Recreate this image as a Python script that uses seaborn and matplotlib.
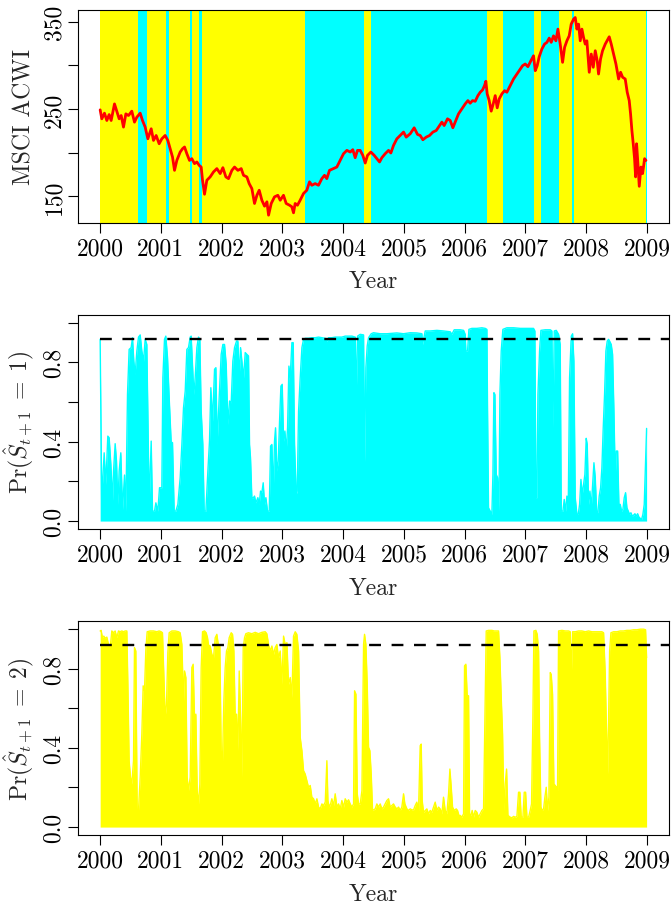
import matplotlib
matplotlib.use("Agg")
import matplotlib.pyplot as plt
import seaborn as sns

# ---------------- data ----------------
years = list(range(2000, 2010))

# regime boundaries (decimal year) and regime state for each interval (1 = cyan, 2 = yellow)
regime_breaks = [2000.0, 2000.631, 2000.768, 2001.087, 2001.131, 2001.482, 2001.515,
                 2001.619, 2001.679, 2003.375, 2004.341, 2004.461, 2006.371, 2006.635,
                 2007.145, 2007.260, 2007.557, 2007.771, 2007.804, 2008.99, 2009.004]
regime_states = [2, 1, 2, 1, 2, 1, 2, 1, 2, 1, 2, 1, 2, 1, 2, 1, 2, 1, 2, 1]

price_t = [2000.000, 2000.027, 2000.071, 2000.110, 2000.148, 2000.181, 2000.236, 2000.274,
           2000.313, 2000.346, 2000.384, 2000.423, 2000.467, 2000.521, 2000.565, 2000.604,
           2000.659, 2000.697, 2000.741, 2000.785, 2000.840, 2000.878, 2000.922, 2000.971,
           2001.015, 2001.070, 2001.114, 2001.153, 2001.191, 2001.224, 2001.262, 2001.317,
           2001.356, 2001.389, 2001.427, 2001.471, 2001.509, 2001.553, 2001.592, 2001.630,
           2001.663, 2001.685, 2001.718, 2001.756, 2001.811, 2001.866, 2001.921, 2001.976,
           2002.020, 2002.069, 2002.113, 2002.168, 2002.212, 2002.267, 2002.322, 2002.360,
           2002.415, 2002.453, 2002.497, 2002.541, 2002.580, 2002.618, 2002.662, 2002.706,
           2002.745, 2002.772, 2002.816, 2002.870, 2002.925, 2002.964,
           2003.018, 2003.062, 2003.117, 2003.155, 2003.183, 2003.210, 2003.248, 2003.292,
           2003.347, 2003.402, 2003.446, 2003.484, 2003.539, 2003.594, 2003.649, 2003.693,
           2003.731, 2003.775, 2003.841, 2003.896, 2003.951, 2004.006, 2004.061, 2004.116,
           2004.159, 2004.198, 2004.236, 2004.280, 2004.324, 2004.363, 2004.401, 2004.456,
           2004.511, 2004.555, 2004.599, 2004.637, 2004.692, 2004.747, 2004.785, 2004.829,
           2004.884, 2004.939, 2004.994, 2005.038, 2005.104, 2005.169, 2005.224, 2005.268,
           2005.312, 2005.367, 2005.422, 2005.477, 2005.532, 2005.586, 2005.625, 2005.663,
           2005.718, 2005.762, 2005.806, 2005.844, 2005.899, 2005.954, 2006.009,
           2006.053, 2006.091, 2006.130, 2006.174, 2006.218, 2006.256, 2006.294, 2006.327,
           2006.349, 2006.371, 2006.404, 2006.437, 2006.470, 2006.503, 2006.536, 2006.569,
           2006.613, 2006.657, 2006.695, 2006.750, 2006.805, 2006.860, 2006.915, 2006.953,
           2006.997, 2007.041, 2007.096, 2007.134, 2007.162, 2007.194, 2007.227, 2007.271,
           2007.315, 2007.354, 2007.392, 2007.425, 2007.463, 2007.502, 2007.535, 2007.573,
           2007.612, 2007.645, 2007.683, 2007.721, 2007.754, 2007.793, 2007.820, 2007.848,
           2007.875, 2007.903, 2007.930, 2007.957, 2007.985, 2008.012, 2008.051, 2008.084,
           2008.117, 2008.150, 2008.182, 2008.204, 2008.237, 2008.270, 2008.314, 2008.358,
           2008.380, 2008.413, 2008.451, 2008.490, 2008.534, 2008.567, 2008.600, 2008.643,
           2008.676, 2008.709, 2008.731, 2008.753, 2008.775, 2008.797, 2008.814, 2008.830,
           2008.852, 2008.874, 2008.902, 2008.929, 2008.962, 2008.984]
price_v = [249.1, 238.8, 245.3, 236.9, 243.7, 236.9, 255.9, 247.6,
           238.8, 242.6, 229.3, 244.5, 242.6, 247.6, 235.0, 240.7,
           245.3, 236.9, 229.3, 215.9, 227.4, 214.0, 219.7, 210.2,
           215.9, 219.7, 214.0, 204.5, 195.0, 179.7, 191.1, 200.7,
           204.5, 206.5, 198.8, 191.1, 193.1, 187.4, 189.3, 185.4,
           183.5, 168.3, 152.3, 168.3, 172.2, 177.9, 181.7, 176.0,
           182.8, 172.2, 170.2, 179.7, 183.5, 179.7, 181.7, 174.0,
           172.2, 164.5, 158.8, 141.7, 151.1, 156.9, 145.4, 138.6,
           143.6, 128.3, 141.7, 149.3, 151.1, 145.4,
           151.1, 141.7, 139.7, 137.9, 131.0, 141.7, 139.7, 145.4,
           153.1, 156.9, 166.5, 162.6, 164.5, 162.6, 170.2, 174.0,
           170.2, 179.7, 181.7, 183.5, 191.1, 198.8, 202.6, 200.7,
           203.4, 194.2, 202.6, 202.6, 196.9, 188.1, 196.9, 200.7,
           196.9, 193.1, 189.3, 194.2, 198.8, 202.6, 199.6, 208.3,
           215.9, 219.7, 223.6, 217.8, 221.7, 228.5, 220.9, 219.7,
           214.8, 217.8, 219.7, 223.6, 225.4, 231.1, 235.0, 231.1,
           238.8, 236.9, 228.5, 235.0, 244.5, 250.2, 255.9,
           259.7, 256.7, 259.7, 258.9, 265.4, 269.3, 271.9, 276.9,
           281.9, 267.4, 259.7, 247.6, 255.9, 265.4, 251.4, 261.7,
           267.4, 271.1, 269.3, 276.9, 284.5, 290.2, 295.9, 299.7,
           301.7, 298.6, 306.2, 311.1, 294.0, 299.7, 310.0, 318.8,
           324.5, 326.5, 331.4, 326.5, 334.0, 328.3, 341.7, 324.5,
           303.6, 320.7, 328.3, 334.0, 347.4, 353.1, 355.0, 341.7,
           347.4, 328.3, 341.7, 332.2, 324.5, 328.3, 292.2, 313.1,
           297.9, 316.9, 305.4, 290.2, 307.4, 316.9, 324.5, 330.2,
           332.9, 324.5, 313.1, 301.7, 284.5, 292.2, 286.5, 284.5,
           269.3, 259.7, 244.5, 225.4, 210.2, 193.1, 172.2, 210.2,
           187.4, 161.4, 183.5, 176.0, 193.1, 191.1]

# predicted probability of regime 1 (upper envelope)
p1_t = [2000.000, 2000.027, 2000.038, 2000.066, 2000.093, 2000.126, 2000.148, 2000.176,
        2000.203, 2000.220, 2000.247, 2000.269, 2000.291, 2000.313, 2000.340, 2000.368,
        2000.401, 2000.423, 2000.450, 2000.477, 2000.510, 2000.532, 2000.554, 2000.576,
        2000.604, 2000.631, 2000.659, 2000.686, 2000.714, 2000.741, 2000.768, 2000.785,
        2000.807, 2000.840, 2000.862, 2000.895, 2000.917, 2000.950, 2000.977, 2001.015,
        2001.032, 2001.059, 2001.081, 2001.109, 2001.136, 2001.169, 2001.191, 2001.218,
        2001.246, 2001.279, 2001.317, 2001.345, 2001.372, 2001.400, 2001.427, 2001.454,
        2001.482, 2001.498, 2001.520, 2001.542, 2001.564, 2001.592, 2001.619, 2001.641,
        2001.663, 2001.690, 2001.712, 2001.740, 2001.773, 2001.800, 2001.822, 2001.850,
        2001.883, 2001.905, 2001.926, 2001.959, 2001.992, 2002.020, 2002.047, 2002.075,
        2002.102, 2002.130, 2002.157, 2002.184, 2002.212, 2002.245, 2002.267, 2002.289,
        2002.311, 2002.333, 2002.360, 2002.388, 2002.415, 2002.442, 2002.459, 2002.475,
        2002.497, 2002.525, 2002.541, 2002.563, 2002.596, 2002.618, 2002.640, 2002.662,
        2002.684, 2002.706, 2002.728, 2002.755, 2002.783, 2002.805, 2002.827, 2002.849,
        2002.870, 2002.887, 2002.909, 2002.931, 2002.953, 2002.975, 2002.997, 2003.019,
        2003.041, 2003.063, 2003.085, 2003.107, 2003.128, 2003.156, 2003.178, 2003.200,
        2003.227, 2003.244, 2003.266, 2003.293, 2003.321, 2003.348, 2003.375, 2003.430,
        2003.485, 2003.540, 2003.595, 2003.650, 2003.705, 2003.732, 2003.760, 2003.814,
        2003.869, 2003.924, 2003.979, 2004.034, 2004.089, 2004.144, 2004.199, 2004.215,
        2004.237, 2004.281, 2004.336, 2004.352, 2004.374, 2004.396, 2004.418, 2004.462,
        2004.500, 2004.610, 2004.719, 2004.884, 2004.994, 2005.104, 2005.213, 2005.296,
        2005.307, 2005.351, 2005.433, 2005.543, 2005.652, 2005.762, 2005.790, 2005.828,
        2005.927, 2005.982, 2006.009, 2006.020, 2006.048, 2006.070, 2006.119, 2006.201,
        2006.284, 2006.339, 2006.366, 2006.377, 2006.393, 2006.421, 2006.448, 2006.465,
        2006.481, 2006.498, 2006.520, 2006.542, 2006.564, 2006.580, 2006.602, 2006.629,
        2006.695, 2006.805, 2006.915, 2007.024, 2007.134, 2007.156, 2007.173, 2007.189,
        2007.206, 2007.233, 2007.255, 2007.327, 2007.409, 2007.436, 2007.453, 2007.475,
        2007.508, 2007.546, 2007.573, 2007.590, 2007.617, 2007.639, 2007.661, 2007.683,
        2007.705, 2007.727, 2007.755, 2007.777, 2007.798, 2007.820, 2007.848, 2007.870,
        2007.892, 2007.914, 2007.936, 2007.958, 2007.979, 2008.001, 2008.018, 2008.040,
        2008.062, 2008.084, 2008.106, 2008.128, 2008.150, 2008.172, 2008.193, 2008.215,
        2008.238, 2008.259, 2008.281, 2008.303, 2008.325, 2008.347, 2008.369, 2008.391,
        2008.413, 2008.435, 2008.457, 2008.479, 2008.496, 2008.518, 2008.539, 2008.561,
        2008.583, 2008.605, 2008.627, 2008.649, 2008.671, 2008.693, 2008.715, 2008.737,
        2008.759, 2008.781, 2008.803, 2008.825, 2008.847, 2008.869, 2008.891, 2008.912,
        2008.934, 2008.956, 2008.978, 2008.995]
p1_v = [0.916, 0.050, 0.185, 0.344, 0.185, 0.428, 0.420, 0.286,
        0.101, 0.252, 0.390, 0.302, 0.084, 0.252, 0.344, 0.059,
        0.232, 0.050, 0.638, 0.865, 0.874, 0.924, 0.806, 0.739,
        0.857, 0.927, 0.938, 0.857, 0.806, 0.916, 0.890, 0.554,
        0.084, 0.403, 0.050, 0.050, 0.092, 0.050, 0.168, 0.168,
        0.722, 0.916, 0.932, 0.823, 0.622, 0.398, 0.395, 0.050,
        0.050, 0.084, 0.218, 0.386, 0.571, 0.655, 0.865, 0.874,
        0.927, 0.932, 0.790, 0.638, 0.722, 0.874, 0.927, 0.916,
        0.554, 0.386, 0.050, 0.050, 0.252, 0.403, 0.672, 0.504,
        0.765, 0.773, 0.386, 0.622, 0.840, 0.890, 0.890, 0.790,
        0.487, 0.605, 0.596, 0.806, 0.874, 0.907, 0.907, 0.722,
        0.874, 0.806, 0.722, 0.849, 0.840, 0.832, 0.386, 0.319,
        0.118, 0.118, 0.126, 0.092, 0.118, 0.084, 0.151, 0.143,
        0.193, 0.084, 0.118, 0.050, 0.050, 0.378, 0.386, 0.134,
        0.403, 0.470, 0.252, 0.302, 0.504, 0.680, 0.689, 0.403,
        0.454, 0.353, 0.470, 0.781, 0.722, 0.899, 0.899, 0.386,
        0.134, 0.151, 0.554, 0.722, 0.874, 0.916, 0.921, 0.921,
        0.924, 0.924, 0.927, 0.924, 0.921, 0.904, 0.924, 0.924,
        0.927, 0.927, 0.927, 0.932, 0.932, 0.932, 0.927, 0.620,
        0.932, 0.941, 0.938, 0.300, 0.773, 0.882, 0.924, 0.944,
        0.949, 0.944, 0.944, 0.948, 0.944, 0.949, 0.948, 0.944,
        0.890, 0.958, 0.958, 0.961, 0.958, 0.954, 0.941, 0.964,
        0.964, 0.961, 0.941, 0.857, 0.857, 0.966, 0.971, 0.971,
        0.974, 0.971, 0.966, 0.554, 0.067, 0.050, 0.034, 0.235,
        0.647, 0.638, 0.235, 0.218, 0.050, 0.638, 0.857, 0.966,
        0.974, 0.974, 0.971, 0.971, 0.971, 0.958, 0.118, 0.118,
        0.638, 0.857, 0.961, 0.964, 0.964, 0.958, 0.470, 0.958,
        0.961, 0.941, 0.890, 0.050, 0.050, 0.109, 0.050, 0.126,
        0.067, 0.722, 0.932, 0.944, 0.806, 0.118, 0.034, 0.034,
        0.084, 0.210, 0.134, 0.185, 0.235, 0.417, 0.386, 0.084,
        0.151, 0.067, 0.176, 0.294, 0.218, 0.050, 0.042, 0.126,
        0.168, 0.269, 0.470, 0.638, 0.857, 0.907, 0.916, 0.904,
        0.890, 0.840, 0.554, 0.218, 0.353, 0.353, 0.084, 0.084,
        0.050, 0.059, 0.118, 0.143, 0.067, 0.050, 0.034, 0.042,
        0.025, 0.030, 0.037, 0.025, 0.037, 0.020, 0.014, 0.008,
        0.034, 0.084, 0.302, 0.467]

# predicted probability of regime 2 (upper envelope)
p2_t = [2000.000, 2000.016, 2000.038, 2000.060, 2000.082, 2000.110, 2000.137, 2000.165,
        2000.192, 2000.220, 2000.247, 2000.274, 2000.302, 2000.329, 2000.357, 2000.384,
        2000.412, 2000.439, 2000.456, 2000.477, 2000.499, 2000.521, 2000.549, 2000.565,
        2000.587, 2000.609, 2000.631, 2000.659, 2000.686, 2000.708, 2000.730, 2000.752,
        2000.774, 2000.823, 2000.878, 2000.933, 2000.971, 2001.004, 2001.026, 2001.048,
        2001.070, 2001.092, 2001.114, 2001.136, 2001.180, 2001.235, 2001.290, 2001.317,
        2001.345, 2001.372, 2001.389, 2001.411, 2001.432, 2001.454, 2001.482, 2001.509,
        2001.531, 2001.553, 2001.575, 2001.597, 2001.619, 2001.641, 2001.663, 2001.685,
        2001.718, 2001.745, 2001.767, 2001.784, 2001.811, 2001.839, 2001.866, 2001.894,
        2001.921, 2001.948, 2001.970, 2001.992, 2002.014, 2002.036, 2002.058, 2002.080,
        2002.102, 2002.124, 2002.157, 2002.179, 2002.201, 2002.223, 2002.245, 2002.267,
        2002.289, 2002.311, 2002.333, 2002.355, 2002.377, 2002.398, 2002.442, 2002.497,
        2002.552, 2002.607, 2002.662, 2002.717, 2002.744, 2002.772, 2002.799, 2002.827,
        2002.854, 2002.881, 2002.909, 2002.936, 2002.964, 2002.991, 2003.019, 2003.046,
        2003.074, 2003.101, 2003.129, 2003.156, 2003.183, 2003.211, 2003.238, 2003.266,
        2003.293, 2003.321, 2003.348, 2003.375, 2003.403, 2003.430, 2003.458, 2003.485,
        2003.513, 2003.540, 2003.568, 2003.595, 2003.622, 2003.650, 2003.677, 2003.705,
        2003.732, 2003.749, 2003.771, 2003.793, 2003.814, 2003.842, 2003.869, 2003.897,
        2003.924, 2003.952, 2003.979, 2004.007, 2004.034, 2004.062, 2004.089, 2004.116,
        2004.144, 2004.171, 2004.188, 2004.210, 2004.232, 2004.254, 2004.281, 2004.309,
        2004.336, 2004.352, 2004.374, 2004.396, 2004.418, 2004.440, 2004.462, 2004.484,
        2004.527, 2004.555, 2004.582, 2004.610, 2004.637, 2004.665, 2004.692, 2004.719,
        2004.747, 2004.774, 2004.802, 2004.829, 2004.857, 2004.884, 2004.912, 2004.939,
        2004.966, 2004.994, 2005.016, 2005.049, 2005.076, 2005.104, 2005.131, 2005.159,
        2005.186, 2005.213, 2005.241, 2005.268, 2005.285, 2005.301, 2005.323, 2005.351,
        2005.378, 2005.405, 2005.433, 2005.460, 2005.488, 2005.515, 2005.543, 2005.570,
        2005.597, 2005.625, 2005.652, 2005.680, 2005.707, 2005.735, 2005.757, 2005.779,
        2005.801, 2005.828, 2005.861, 2005.883, 2005.905, 2005.927, 2005.954, 2005.982,
        2005.998, 2006.020, 2006.042, 2006.064, 2006.081, 2006.103, 2006.124, 2006.146,
        2006.174, 2006.201, 2006.229, 2006.256, 2006.284, 2006.311, 2006.333, 2006.355,
        2006.393, 2006.448, 2006.487, 2006.520, 2006.558, 2006.580, 2006.602, 2006.624,
        2006.646, 2006.668, 2006.690, 2006.712, 2006.750, 2006.778, 2006.805, 2006.833,
        2006.860, 2006.887, 2006.909, 2006.931, 2006.959, 2006.981, 2007.003, 2007.025,
        2007.052, 2007.079, 2007.101, 2007.123, 2007.140, 2007.173, 2007.195, 2007.217,
        2007.233, 2007.255, 2007.277, 2007.299, 2007.321, 2007.343, 2007.365, 2007.387,
        2007.409, 2007.425, 2007.447, 2007.469, 2007.491, 2007.513, 2007.529, 2007.546,
        2007.601, 2007.656, 2007.711, 2007.738, 2007.755, 2007.777, 2007.820, 2007.875,
        2007.930, 2007.985, 2008.040, 2008.095, 2008.150, 2008.205, 2008.259, 2008.287,
        2008.314, 2008.331, 2008.353, 2008.369, 2008.386, 2008.408, 2008.452, 2008.507,
        2008.561, 2008.616, 2008.671, 2008.726, 2008.781, 2008.836, 2008.891, 2008.946,
        2008.978, 2008.995]
p2_v = [0.990, 0.993, 0.956, 0.964, 0.953, 0.959, 0.922, 0.906,
        0.990, 0.981, 0.990, 0.956, 0.990, 0.986, 0.990, 0.986,
        0.990, 0.990, 0.721, 0.335, 0.252, 0.218, 0.335, 0.906,
        0.889, 0.084, 0.084, 0.252, 0.470, 0.713, 0.688, 0.897,
        0.986, 0.990, 0.990, 0.986, 0.990, 0.986, 0.981, 0.771,
        0.554, 0.621, 0.881, 0.981, 0.990, 0.990, 0.986, 0.981,
        0.922, 0.637, 0.788, 0.755, 0.252, 0.184, 0.252, 0.805,
        0.822, 0.554, 0.570, 0.184, 0.117, 0.218, 0.805, 0.986,
        0.990, 0.981, 0.956, 0.919, 0.914, 0.872, 0.855, 0.956,
        0.973, 0.914, 0.914, 0.386, 0.335, 0.637, 0.805, 0.889,
        0.906, 0.956, 0.981, 0.973, 0.889, 0.554, 0.570, 0.386,
        0.788, 0.554, 0.252, 0.906, 0.956, 0.976, 0.981, 0.976,
        0.983, 0.976, 0.983, 0.986, 0.976, 0.922, 0.889, 0.914,
        0.872, 0.906, 0.922, 0.855, 0.889, 0.721, 0.964, 0.922,
        0.931, 0.721, 0.755, 0.654, 0.964, 0.986, 0.973, 0.889,
        0.453, 0.386, 0.285, 0.268, 0.235, 0.201, 0.210, 0.151,
        0.143, 0.117, 0.143, 0.101, 0.092, 0.117, 0.109, 0.126,
        0.335, 0.134, 0.101, 0.117, 0.143, 0.109, 0.168, 0.101,
        0.117, 0.092, 0.134, 0.101, 0.143, 0.126, 0.138, 0.117,
        0.101, 0.117, 0.688, 0.671, 0.168, 0.117, 0.117, 0.184,
        0.922, 0.973, 0.922, 0.721, 0.403, 0.386, 0.268, 0.084,
        0.092, 0.117, 0.101, 0.117, 0.092, 0.101, 0.117, 0.134,
        0.143, 0.101, 0.109, 0.117, 0.101, 0.092, 0.101, 0.084,
        0.101, 0.168, 0.117, 0.092, 0.084, 0.092, 0.087, 0.087,
        0.109, 0.126, 0.084, 0.411, 0.419, 0.134, 0.075, 0.084,
        0.092, 0.067, 0.084, 0.075, 0.101, 0.126, 0.084, 0.101,
        0.092, 0.067, 0.151, 0.084, 0.067, 0.168, 0.293, 0.201,
        0.101, 0.084, 0.092, 0.084, 0.059, 0.059, 0.050, 0.067,
        0.814, 0.822, 0.663, 0.663, 0.067, 0.059, 0.084, 0.050,
        0.084, 0.075, 0.050, 0.067, 0.084, 0.092, 0.554, 0.990,
        0.993, 0.993, 0.990, 0.990, 0.990, 0.855, 0.654, 0.470,
        0.084, 0.218, 0.293, 0.059, 0.050, 0.047, 0.054, 0.050,
        0.054, 0.176, 0.176, 0.050, 0.050, 0.176, 0.176, 0.050,
        0.050, 0.084, 0.117, 0.554, 0.990, 0.993, 0.973, 0.889,
        0.453, 0.101, 0.084, 0.092, 0.151, 0.201, 0.084, 0.151,
        0.780, 0.771, 0.671, 0.218, 0.210, 0.201, 0.184, 0.990,
        0.993, 0.990, 0.990, 0.986, 0.755, 0.986, 0.986, 0.990,
        0.990, 0.986, 0.990, 0.986, 0.986, 0.986, 0.986, 0.981,
        0.771, 0.537, 0.268, 0.537, 0.889, 0.981, 0.986, 0.986,
        0.990, 0.990, 0.993, 0.993, 0.996, 0.996, 0.999, 0.999,
        0.996, 0.855]

threshold = 0.917
price_ticks = [150, 200, 250, 300, 350]
price_ticklabels = ["150", "", "250", "", "350"]
prob_ticks = [0.0, 0.2, 0.4, 0.6, 0.8, 1.0]
prob_ticklabels = ["0.0", "", "0.4", "", "0.8", ""]

CYAN = "#00FFFF"
YELLOW = "#FFFF00"

# ---------------- style ----------------
sns.set_theme(style="ticks")
plt.rcParams.update({
    "font.family": ["cmr10", "DejaVu Serif"],
    "mathtext.fontset": "cm",
    "axes.formatter.use_mathtext": True,
    "font.size": 17,
    "axes.labelsize": 17,
    "xtick.labelsize": 17,
    "ytick.labelsize": 17,
    "axes.edgecolor": "black",
    "axes.linewidth": 0.8,
    "xtick.color": "black",
    "ytick.color": "black",
    "xtick.major.size": 7.5,
    "ytick.major.size": 7.5,
    "xtick.major.width": 0.8,
    "ytick.major.width": 0.8,
    "xtick.major.pad": 2.5,
    "ytick.major.pad": 2.0,
    "xtick.direction": "out",
    "ytick.direction": "out",
    "axes.facecolor": "white",
    "figure.facecolor": "white",
})

XLIM = (1999.64, 2009.36)

fig = plt.figure(figsize=(6.72, 9.04), dpi=100)
ax1 = fig.add_axes([0.1165, 0.7522, 0.8787, 0.2360])
ax2 = fig.add_axes([0.1165, 0.4137, 0.8787, 0.2371])
ax3 = fig.add_axes([0.1165, 0.0752, 0.8787, 0.2367])


def style_axis(ax, yticks, ylabels, ylabel):
    ax.set_xlim(*XLIM)
    ax.set_xticks(years)
    ax.set_xticklabels([str(y) for y in years])
    ax.set_yticks(yticks)
    ax.set_yticklabels(ylabels, rotation=90, va="center")
    ax.set_xlabel("Year")
    ax.set_ylabel(ylabel)
    ax.xaxis.set_label_coords(0.5, -0.222)
    ax.yaxis.set_label_coords(-0.072, 0.5)
    for sp in ax.spines.values():
        sp.set_visible(True)
        sp.set_color("black")
        sp.set_linewidth(0.8)
    ax.grid(False)


# ---------- panel 1: index with regime shading ----------
for a, b, s in zip(regime_breaks[:-1], regime_breaks[1:], regime_states):
    ax1.axvspan(a, b, color=CYAN if s == 1 else YELLOW, lw=0, zorder=0)
sns.lineplot(x=price_t, y=price_v, ax=ax1, color="#FF0000", lw=2.0,
             estimator=None, sort=False, zorder=3)
ax1.set_ylim(119.3, 364.0)
style_axis(ax1, price_ticks, price_ticklabels, "MSCI ACWI")

# ---------- panels 2 & 3: probabilities ----------
for ax, tt, vv, col, lab in [
        (ax2, p1_t, p1_v, CYAN, r"$\mathrm{Pr}(\hat{S}_{t+1}\;=\;1)$"),
        (ax3, p2_t, p2_v, YELLOW, r"$\mathrm{Pr}(\hat{S}_{t+1}\;=\;2)$")]:
    ax.fill_between(tt, 0, vv, color=col, lw=0, zorder=1)
    sns.lineplot(x=tt, y=vv, ax=ax, color=col, lw=1.0, estimator=None,
                 sort=False, zorder=2)
    ax.set_ylim(-0.04, 1.04)
    x0 = (years[0] - XLIM[0]) / (XLIM[1] - XLIM[0])
    ax.axhline(threshold, xmin=x0, xmax=1.0, color="black", lw=1.7,
               linestyle=(0, (5, 4.5)), zorder=4)
    style_axis(ax, prob_ticks, prob_ticklabels, lab)

fig.savefig("out.png", dpi=100)
